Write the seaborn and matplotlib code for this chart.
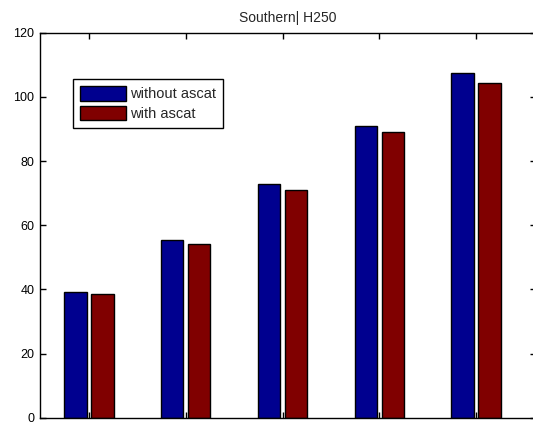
import pandas as pd
import seaborn as sns
import matplotlib.pyplot as plt

groups = ["1", "2", "3", "4", "5"]
without_ascat = [39.3, 55.3, 72.9, 90.9, 107.3]
with_ascat = [38.7, 54.2, 71.1, 89.1, 104.2]
series_names = ["without ascat", "with ascat"]
yticks = [0, 20, 40, 60, 80, 100, 120]

df = pd.DataFrame({
    "group": groups * 2,
    "value": without_ascat + with_ascat,
    "series": [series_names[0]] * 5 + [series_names[1]] * 5,
})

sns.set_style("ticks")
plt.rcParams["font.family"] = ["Liberation Sans", "DejaVu Sans"]

fig = plt.figure(figsize=(5.33, 4.24), dpi=100)
ax = fig.add_axes([40 / 533, 6.3 / 424, 496 / 533, 385 / 424])

sns.barplot(data=df, x="group", y="value", hue="series", ax=ax,
            palette=["#00008F", "#800000"], width=0.56, gap=0.18,
            edgecolor="black", linewidth=1, saturation=1, errorbar=None)

ax.set_xlim(-0.507, 4.62)
ax.set_ylim(0, 120)
ax.set_yticks(yticks)
ax.set_xlabel("")
ax.set_ylabel("")
ax.set_xticklabels([])
for s in ax.spines.values():
    s.set_visible(True)
    s.set_color("black")
    s.set_linewidth(1)
ax.spines["right"].set_visible(False)
ax.tick_params(direction="in", length=4, width=1, top=True, right=True,
               labelsize=9, colors="black", pad=4)
ax.set_title("Southern| H250", fontsize=10, pad=8)

ax.legend(loc="upper left", bbox_to_anchor=(73 / 533, 1 - 79 / 424),
          bbox_transform=fig.transFigure, fontsize=10.5, frameon=True,
          fancybox=False, edgecolor="black", framealpha=1,
          handlelength=3.1, handleheight=1.15, handletextpad=0.3,
          borderpad=0.5, labelspacing=0.3, borderaxespad=0)

fig.savefig("out.png", dpi=100)
